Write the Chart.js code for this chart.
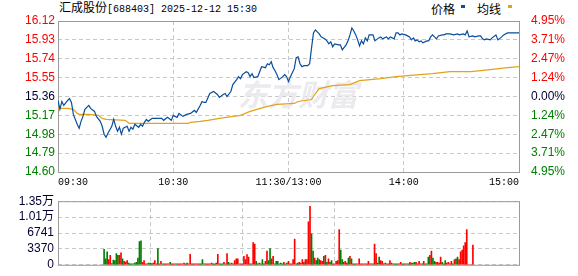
<!DOCTYPE html>
<html>
<head>
    <meta charset="utf-8">
    <title>汇成股份 分时走势</title>
    <script src="https://cdn.jsdelivr.net/npm/chart.js"></script>
    <style>
        * {
            box-sizing: border-box;
            margin: 0;
            padding: 0;
        }

        body {
            width: 578px;
            height: 276px;
            background: #ffffff;
            position: relative;
            overflow: hidden;
            font-family: 'Liberation Sans', 'Noto Sans CJK SC', sans-serif;
        }

        .title {
            position: absolute;
            left: 59px;
            top: 0;
            height: 17px;
            line-height: 17px;
            font-size: 12px;
            color: #000;
            white-space: nowrap;
        }

        .title .code {
            font-family: 'Liberation Mono', monospace;
            font-size: 10px;
        }

        .legend {
            position: absolute;
            top: 0;
            height: 17px;
            line-height: 17px;
            font-size: 12px;
            font-family: 'Noto Sans CJK SC', sans-serif;
            color: #000;
        }

        .mark {
            position: absolute;
            top: 5px;
            width: 4px;
            height: 3px;
        }

        #priceChart {
            position: absolute;
            left: 0;
            top: 0;
        }

        #volChart {
            position: absolute;
            left: 0;
            top: 190px;
        }
    </style>
</head>
<body>
    <div class="title">汇成股份<span class="code">[688403] 2025-12-12 15:30</span></div>
    <div class="legend" style="left:431px">价格</div>
    <div class="mark" style="left:461px;background:#0a4d9c"></div>
    <div class="legend" style="left:477px">均线</div>
    <div class="mark" style="left:508px;background:#e2a31b"></div>

    <canvas id="priceChart" width="578" height="190"></canvas>
    <canvas id="volChart" width="578" height="86"></canvas>

    <script>
        // minute index: 0 = 09:30, 120 = 11:30 / 13:00, 240 = 15:00
        const timeTicks = [0, 60, 120, 180, 240];
        const timeLabels = ['09:30', '10:30', '11:30/13:00', '14:00', '15:00'];

        const prevClose = 15.36;
        const priceTicks = [14.60, 14.79, 14.98, 15.17, 15.36, 15.55, 15.74, 15.93, 16.12];
        const pctLabels = ['4.95%', '3.71%', '2.47%', '1.24%', '0.00%', '1.24%', '2.47%', '3.71%', '4.95%'];

        // price line (minute, price)
        const priceMin = [
            0, 1, 2, 3, 5, 6, 7, 8, 10, 11, 12, 13, 14, 16, 17, 19, 20, 22, 23, 24,
            25, 26, 28, 29, 30, 31, 32, 33, 34, 36, 37, 38, 39, 40, 42, 43, 44, 45, 46, 47,
            49, 51, 54, 55, 57, 59, 60, 62, 63, 65, 67, 69, 71, 72, 74, 75, 76, 77, 79, 81,
            83, 84, 86, 87, 88, 90, 91, 93, 94, 95, 96, 98, 99, 100, 101, 102, 104, 105, 106, 108,
            109, 110, 111, 112, 113, 114, 115, 117, 118, 119, 120, 121, 123, 124, 125, 126, 127, 128, 130, 131,
            132, 133, 134, 136, 137, 139, 140, 141, 142, 143, 144, 146, 147, 148, 150, 151, 152, 153, 154, 155,
            156, 157, 158, 159, 160, 161, 162, 164, 165, 167, 168, 169, 171, 172, 173, 175, 176, 177, 178, 179,
            181, 182, 183, 184, 185, 186, 187, 188, 189, 190, 192, 193, 194, 195, 196, 197, 198, 200, 201, 202,
            204, 206, 208, 209, 211, 212, 213, 214, 216, 217, 219, 220, 221, 222, 223, 225, 226, 228, 229, 231,
            232, 234, 240
        ];
        const priceVal = [
            15.32, 15.23, 15.31, 15.27, 15.32, 15.34, 15.30, 15.18, 15.08, 15.04, 15.11, 15.16, 15.23, 15.27, 15.24, 15.21, 15.16, 15.11, 15.06, 14.98,
            14.95, 14.99, 15.06, 15.13, 15.06, 15.01, 15.05, 14.98, 15.04, 15.06, 15.01, 15.05, 15.03, 15.08, 15.05, 15.08, 15.06, 15.10, 15.13, 15.11,
            15.14, 15.14, 15.14, 15.12, 15.15, 15.12, 15.17, 15.15, 15.19, 15.16, 15.18, 15.19, 15.22, 15.20, 15.27, 15.31, 15.30, 15.30, 15.39, 15.41,
            15.38, 15.35, 15.38, 15.39, 15.36, 15.41, 15.48, 15.53, 15.56, 15.54, 15.58, 15.61, 15.60, 15.56, 15.59, 15.55, 15.56, 15.61, 15.66, 15.65,
            15.69, 15.68, 15.71, 15.65, 15.62, 15.58, 15.53, 15.56, 15.58, 15.56, 15.51, 15.56, 15.64, 15.75, 15.76, 15.69, 15.66, 15.67, 15.67, 15.69,
            15.85, 16.00, 16.03, 15.99, 15.96, 15.94, 15.92, 15.89, 15.91, 15.86, 15.89, 15.88, 15.88, 15.83, 15.88, 15.92, 15.98, 16.05, 16.02, 15.98,
            15.93, 15.87, 15.92, 15.89, 15.95, 15.92, 15.98, 15.98, 15.92, 15.95, 15.96, 15.94, 15.96, 15.94, 15.96, 15.94, 16.00, 16.00, 15.98, 15.99,
            15.98, 15.97, 15.96, 15.93, 15.95, 15.92, 15.93, 15.91, 15.92, 15.90, 15.92, 15.92, 15.96, 15.98, 15.96, 15.94, 15.97, 15.98, 15.98, 15.99,
            15.99, 15.98, 15.99, 15.98, 15.99, 15.98, 16.02, 15.96, 15.97, 15.96, 15.97, 15.97, 15.94, 15.93, 15.94, 15.93, 15.95, 15.98, 15.93, 15.96,
            15.98, 16.00, 16.00
        ];

        // average price line (minute, price)
        const avgMin = [0, 5, 8, 10, 11, 16, 21, 23, 25, 35, 37, 52, 68, 69, 74, 78, 84, 95, 100, 109,
            114, 123, 125, 132, 134, 136, 143, 152, 157, 168, 176, 182, 195, 204, 215, 225, 234, 240];
        const avgVal = [15.24, 15.24, 15.23, 15.19, 15.18, 15.18, 15.17, 15.14, 15.13, 15.12, 15.09, 15.09, 15.09, 15.10, 15.11, 15.12, 15.14, 15.17, 15.21, 15.26,
            15.28, 15.29, 15.31, 15.33, 15.39, 15.44, 15.47, 15.48, 15.52, 15.54, 15.56, 15.57, 15.59, 15.61, 15.61, 15.63, 15.65, 15.66];

        // volume per minute (lots), index 0..240
        const volume = [
            3280, 1270, 2730, 1100, 2000, 250, 1000, 900, 2370, 2000,
            2000, 2550, 1270, 730, 600, 900, 360, 180, 180, 180,
            360, 550, 1450, 4900, 5100, 550, 900, 180, 180, 360,
            360, 250, 360, 900, 180, 3460, 180, 730, 180, 180,
            180, 180, 180, 550, 180, 180, 180, 180, 180, 180,
            180, 180, 360, 180, 360, 180, 2200, 180, 180, 180,
            180, 180, 180, 180, 1100, 180, 180, 180, 180, 180,
            360, 180, 180, 360, 2200, 180, 180, 180, 550, 180,
            2370, 550, 180, 360, 180, 900, 1270, 1270, 180, 180,
            180, 1820, 1100, 2180, 1640, 180, 180, 4730, 4370, 720,
            180, 360, 180, 1100, 180, 720, 2900, 900, 3460, 1270,
            1820, 180, 720, 720, 180, 360, 180, 550, 180, 360,
            720,
            180, 180, 1100, 5460, 180, 360, 550, 360, 1100, 550,
            1100, 1100, 9100, 12380, 6550, 2900, 1450, 900, 1450, 1100,
            900, 720, 1820, 2000, 550, 1270, 550, 900, 180, 180,
            720, 900, 7460, 3100, 1100, 550, 720, 360, 1450, 1820,
            1270, 180, 180, 180, 180, 1270, 180, 180, 180, 180,
            180, 720, 180, 180, 180, 4370, 2370, 360, 1640, 900,
            720, 180, 360, 180, 180, 900, 360, 180, 180, 180,
            180, 180, 550, 180, 180, 180, 180, 180, 550, 360,
            360, 550, 550, 180, 720, 180, 180, 720, 180, 180,
            1640, 2000, 2900, 1450, 720, 550, 550, 360, 1640, 550,
            180, 900, 360, 550, 180, 720, 180, 1100, 1270, 1640,
            1100, 2730, 3100, 4000, 4730, 7460, 0, 0, 0, 4190
        ];
        // r = minute closed up, g = minute closed down
        const volDir = ('gggrrggggg rrgrrrgggg gggggrrrrg ggrrrgrrgr rrrgrrrgrr rrrrgrrgrr ' +
            'rrrgggrrrr rggrrgggrg rgrgrrrrgr rrrrrggrrg grgggrrggr rggggggrgg r ' +
            'rrrrggrrrg rrrrggrggg rrgrgrggrr rrrggrrrgr grgrrrrrrr rrrrgrrggr ' +
            'rrgrrrgrgg grrgrrggrr ggrrrrgrrg grrggrrrrg rgrrrrgrgg rrrrrrrrrr').replace(/ /g, '');

        const volTicks = [0, 3370, 6741, 10111, 13482];
        const volLabels = ['0', '3370', '6741', '1.01万', '1.35万'];

        const BLUE = '#0a4d9c';
        const ORANGE = '#e2a31b';
        const RED = '#ff0000';
        const GREEN = '#008000';
        const DARK = '#000033';
        const GRID = '#c8c8c8';
        const FRAME = '#9a9a9a';

        Chart.defaults.font.family = "'Liberation Sans', 'Noto Sans CJK SC', sans-serif";
        Chart.defaults.font.size = 12;

        function sideColor(v) {
            if (v > prevClose + 1e-6) return RED;
            if (v < prevClose - 1e-6) return GREEN;
            return DARK;
        }

        // solid frame round the plot area
        const frame = {
            id: 'frame',
            beforeDatasetsDraw(chart) {
                const a = chart.chartArea;
                const c = chart.ctx;
                c.save();
                c.strokeStyle = FRAME;
                c.lineWidth = 1;
                c.strokeRect(a.left + 0.5, a.top + 0.5, a.right - a.left, a.bottom - a.top);
                c.restore();
            }
        };

        // faint watermark behind the lines
        const watermark = {
            id: 'watermark',
            beforeDatasetsDraw(chart) {
                const c = chart.ctx;
                c.save();
                c.fillStyle = '#ebebef';
                c.font = 'italic bold 30px "Noto Sans CJK SC"';
                c.textBaseline = 'middle';
                c.fillText('东方财富', 238, 95);
                c.restore();
            }
        };

        const xGridColor = (ctx) => (ctx.tick && (ctx.tick.value === 0 || ctx.tick.value === 240)) ? 'rgba(0,0,0,0)' : GRID;
        const setTimeTicks = (s) => { s.ticks = timeTicks.map(v => ({ value: v })); };

        // Price chart
        new Chart(document.getElementById('priceChart').getContext('2d'), {
            type: 'line',
            data: {
                datasets: [{
                    data: priceMin.map((m, i) => ({ x: m, y: priceVal[i] })),
                    borderColor: BLUE,
                    borderWidth: 1.2,
                    pointRadius: 0,
                    tension: 0,
                    yAxisID: 'y'
                }, {
                    data: avgMin.map((m, i) => ({ x: m, y: avgVal[i] })),
                    borderColor: ORANGE,
                    borderWidth: 1.2,
                    pointRadius: 0,
                    tension: 0,
                    yAxisID: 'y'
                }]
            },
            options: {
                responsive: false,
                animation: false,
                layout: { padding: { top: 21 } },
                plugins: { legend: { display: false }, tooltip: { enabled: false } },
                scales: {
                    x: {
                        type: 'linear',
                        min: 0,
                        max: 240,
                        afterBuildTicks: setTimeTicks,
                        afterFit: (s) => { s.height = 18; },
                        ticks: {
                            autoSkip: false,
                            maxRotation: 0,
                            align: 'inner',
                            padding: 4,
                            color: '#000',
                            font: { family: "'Liberation Mono', monospace", size: 10 },
                            callback: (v) => timeLabels[timeTicks.indexOf(v)]
                        },
                        grid: { drawTicks: false, color: xGridColor },
                        border: { display: false, dash: [4, 3] }
                    },
                    y: {
                        position: 'left',
                        min: 14.60,
                        max: 16.12,
                        afterBuildTicks: (s) => { s.ticks = priceTicks.map(v => ({ value: v })); },
                        afterFit: (s) => { s.width = 58; },
                        ticks: {
                            autoSkip: false,
                            padding: 3,
                            color: (c) => c.tick ? sideColor(c.tick.value) : DARK,
                            callback: (v) => v.toFixed(2)
                        },
                        grid: { drawTicks: false, color: GRID },
                        border: { display: false, dash: [4, 3] }
                    },
                    y2: {
                        position: 'right',
                        min: 14.60,
                        max: 16.12,
                        afterBuildTicks: (s) => { s.ticks = priceTicks.map(v => ({ value: v })); },
                        afterFit: (s) => { s.width = 59; },
                        ticks: {
                            autoSkip: false,
                            padding: 4,
                            color: (c) => c.tick ? sideColor(c.tick.value) : DARK,
                            callback: (v) => pctLabels[priceTicks.findIndex(t => Math.abs(t - v) < 1e-6)]
                        },
                        grid: { display: false },
                        border: { display: false }
                    }
                }
            },
            plugins: [watermark, frame]
        });

        // Volume chart
        new Chart(document.getElementById('volChart').getContext('2d'), {
            type: 'bar',
            data: {
                datasets: [{
                    data: volume.map((v, i) => ({ x: i, y: v })),
                    backgroundColor: volDir.split('').map(d => d === 'r' ? RED : GREEN),
                    barThickness: 1,
                    borderWidth: 0
                }]
            },
            options: {
                responsive: false,
                animation: false,
                layout: { padding: { top: 6, right: 59 } },
                plugins: { legend: { display: false }, tooltip: { enabled: false } },
                scales: {
                    x: {
                        type: 'linear',
                        min: 0,
                        max: 240,
                        afterBuildTicks: setTimeTicks,
                        afterFit: (s) => { s.height = 6; },
                        ticks: { display: false },
                        grid: { drawTicks: false, color: xGridColor },
                        border: { display: false, dash: [4, 3] }
                    },
                    y: {
                        min: 0,
                        max: 13482,
                        afterBuildTicks: (s) => { s.ticks = volTicks.map(v => ({ value: v })); },
                        afterFit: (s) => { s.width = 58; },
                        ticks: {
                            autoSkip: false,
                            padding: 4,
                            color: DARK,
                            callback: (v) => volLabels[volTicks.indexOf(v)]
                        },
                        grid: { drawTicks: false, color: GRID },
                        border: { display: false, dash: [4, 3] }
                    }
                }
            },
            plugins: [frame]
        });
    </script>
</body>
</html>
